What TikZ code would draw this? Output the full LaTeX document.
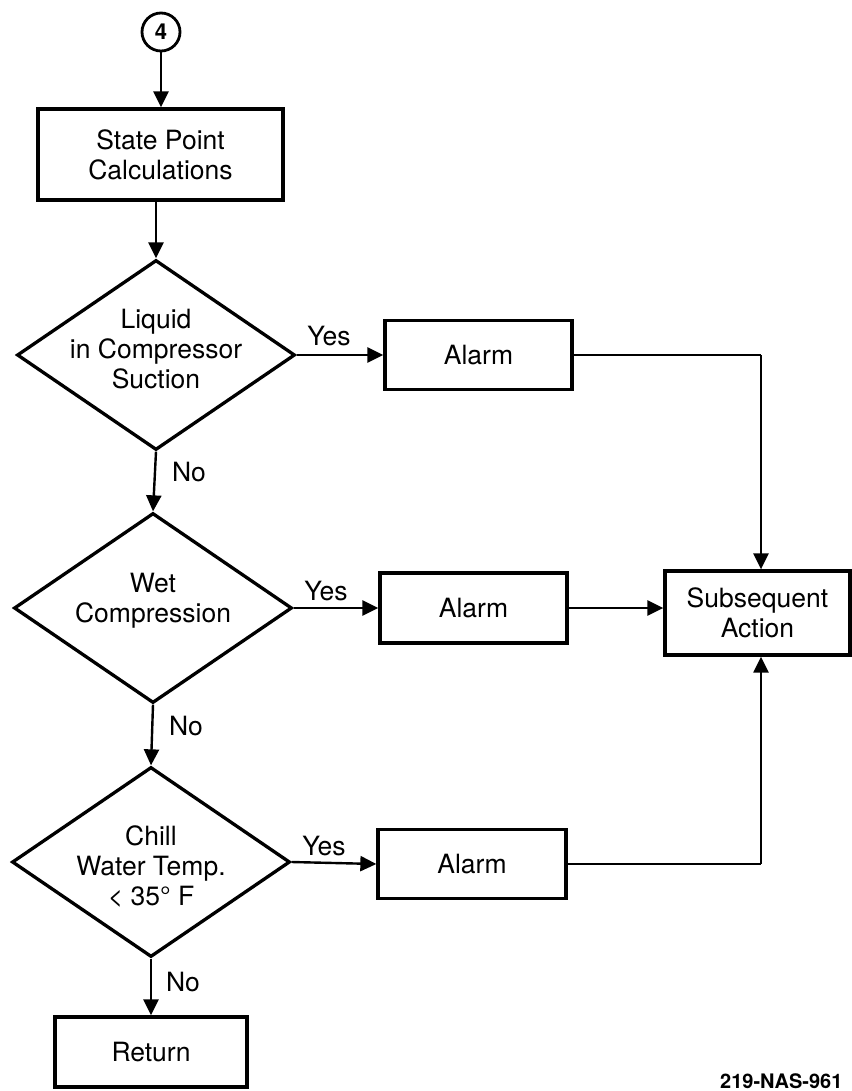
\documentclass[tikz,border=0pt]{standalone}
\usepackage{fontspec}
\setmainfont{TeX Gyre Heros}
\usetikzlibrary{shapes.geometric,arrows.meta}
\begin{document}
\begin{tikzpicture}[x=1pt,y=-1pt,
  every node/.style={font=\fontsize{26.5}{30}\selectfont, align=center, inner sep=0pt},
  procbox/.style={draw, line width=3.3pt, rectangle},
  decision/.style={draw, line width=3.3pt, diamond, minimum width=278pt, minimum height=190pt},
  connector/.style={draw, circle, line width=2.8pt, minimum size=38pt, font=\bfseries\fontsize{22}{24}\selectfont},
  flow/.style={line width=2.4pt, -{Triangle[length=16pt,width=15pt]}},
  plain/.style={line width=2.4pt},
  branch/.style={font=\fontsize{26.5}{30}\selectfont}]
\useasboundingbox (0,0) rectangle (851,1091);

% entry connector and first process
\node[connector] (c4) at (161,32) {4};
\node[procbox, minimum width=245pt, minimum height=91pt] (sp) at (160.5,154.5) {State Point\\Calculations};

% decisions
\node[decision] (d1) at (156,355) {};
\node (d1t) at (156,349) {Liquid\\in Compressor\\Suction};
\node[decision] (d2) at (153,608) {};
\node (d2t) at (153,601) {Wet\\Compression};
\node[decision] (d3) at (151,862) {};
\node (d3t) at (151,867) {Chill\\Water Temp.\\< 35° F};

% alarms
\node[procbox, minimum width=187pt, minimum height=69pt] (a1) at (478.5,355) {Alarm};
\node[procbox, minimum width=187pt, minimum height=70pt] (a2) at (473.5,608) {Alarm};
\node[procbox, minimum width=188pt, minimum height=69pt] (a3) at (472,864) {Alarm};

% outcomes
\node[procbox, minimum width=185pt, minimum height=84pt] (sa) at (757.5,613) {Subsequent\\Action};
\node[procbox, minimum width=192pt, minimum height=70pt] (ret) at (151,1052) {Return};

% corner points of the alarm feeds
\coordinate (k1) at (761,355);
\coordinate (k3) at (761,864);

% main flow
\draw[flow] (c4) -- (c4 |- sp.north);
\draw[flow] (sp.south -| d1.north) -- (d1.north);
\draw[flow] (d1.south) -- (d2.north);
\draw[flow] (d2.south) -- (d3.north);
\draw[flow] (d3.south) -- (d3.south |- ret.north);

% yes branches
\draw[flow] (d1.east) -- (a1.west);
\draw[flow] (d2.east) -- (a2.west);
\draw[flow] (d3.east) -- (a3.west);

% alarms to subsequent action
\draw[plain] (a1.east) -- (k1);
\draw[flow] (k1) -- (k1 |- sa.north);
\draw[flow] (a2.east) -- (a2.east -| sa.west);
\draw[plain] (a3.east) -- (k3);
\draw[flow] (k3) -- (k3 |- sa.south);

% branch labels
\node[branch] (y1) at (329,336) {Yes};
\node[branch] (y2) at (326,591) {Yes};
\node[branch] (y3) at (324,846) {Yes};
\node[branch] (n1) at (189,472) {No};
\node[branch] (n2) at (186,726) {No};
\node[branch] (n3) at (183,982) {No};

% drawing number
\node[anchor=base west, font=\bfseries\fontsize{20}{22}\selectfont] (num) at (720,1088) {219-NAS-961};
\end{tikzpicture}
\end{document}
